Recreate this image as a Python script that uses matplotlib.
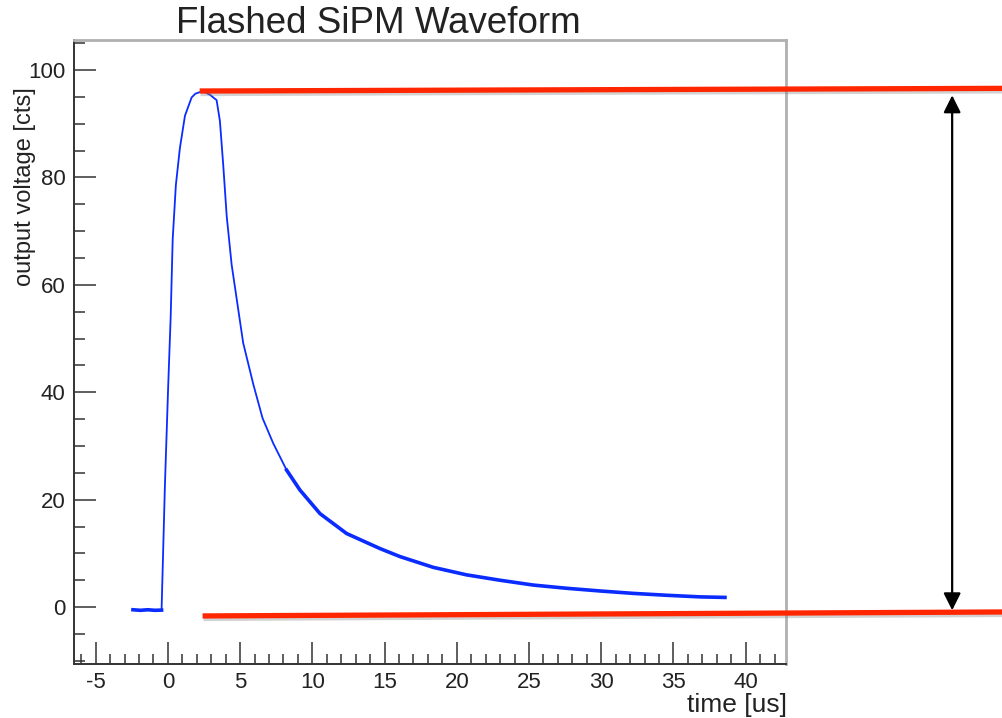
import matplotlib
matplotlib.use("Agg")
import matplotlib.pyplot as plt
import matplotlib.patheffects as pe
from matplotlib.ticker import MultipleLocator

plt.rcParams["font.family"] = ["Liberation Sans", "DejaVu Sans"]
plt.rcParams["axes.unicode_minus"] = False

# waveform: time [us], output voltage [cts]
wave_t = [-2.42, -1.9, -1.4, -0.9, -0.44, -0.21, 0.02, 0.19, 0.33, 0.55, 0.83,
          1.18, 1.64, 1.9, 2.22, 2.55, 2.91, 3.37, 3.60, 3.83, 4.07, 4.41, 4.76,
          5.21, 5.91, 6.55, 7.29, 8.22, 9.14, 10.53, 12.37, 14.68, 16.07,
          18.37, 20.68, 22.99, 25.30, 27.61, 29.92, 32.22, 34.53, 36.84, 38.57]
wave_v = [-0.5, -0.6, -0.5, -0.6, -0.56, 22.5, 41.3, 54.0, 68.5, 78.6, 85.5,
          91.5, 94.9, 95.6, 95.9, 95.9, 95.4, 94.4, 90.5, 82.3, 72.8, 63.8, 57.4,
          49.2, 41.5, 35.2, 30.5, 25.5, 21.8, 17.4, 13.7, 10.9, 9.4,
          7.4, 6.0, 5.0, 4.1, 3.5, 3.0, 2.55, 2.2, 1.9, 1.8]

# hand-drawn markers: peak level, baseline level and the amplitude arrow
peak_line_x = [2.2, 58.5]
peak_line_y = [96.1, 96.6]
base_line_x = [2.4, 58.5]
base_line_y = [-1.65, -0.9]
arrow_x = 54.3
arrow_y = [95.3, -0.6]

fig = plt.figure(figsize=(10.02, 7.18), dpi=100)
ax = fig.add_axes([0.0739, 0.0752, 0.7106, 0.8691])

blue = "#0a2cff"
ax.plot(wave_t, wave_v, color=blue, lw=1.3, zorder=3)
# noisy parts of the trace look thicker
ax.plot(wave_t[:5], wave_v[:5], color=blue, lw=2.6, zorder=3)
ax.plot(wave_t[27:], wave_v[27:], color=blue, lw=2.6, zorder=3)

ax.set_xlim(-6.5, 42.8)
ax.set_ylim(-10.6, 105.6)

ax.xaxis.set_major_locator(MultipleLocator(5))
ax.xaxis.set_minor_locator(MultipleLocator(1))
ax.yaxis.set_major_locator(MultipleLocator(20))
ax.yaxis.set_minor_locator(MultipleLocator(5))
ax.tick_params(axis="both", which="both", direction="in", colors="#333333",
               labelcolor="#222222", width=1.1)
ax.tick_params(axis="both", which="major", labelsize=16)
ax.tick_params(axis="x", which="major", length=16, pad=6)
ax.tick_params(axis="x", which="minor", length=7)
ax.tick_params(axis="y", which="major", length=15.5, pad=6)
ax.tick_params(axis="y", which="minor", length=8)

for side in ("left", "bottom"):
    ax.spines[side].set_color("#333333")
    ax.spines[side].set_linewidth(1.4)
for side in ("right", "top"):
    ax.spines[side].set_color("#b0b0b0")
    ax.spines[side].set_linewidth(2.0)

fig.text(0.378, 0.9536, "Flashed SiPM Waveform", ha="center", va="baseline",
         fontsize=26.5, color="#222222")
fig.text(0.785, 0.008, "time [us]", ha="right", va="baseline",
         fontsize=19, color="#222222")
fig.text(0.025, 0.879, "output voltage [cts]", ha="center", va="top",
         rotation=90, fontsize=17, color="#222222")

shadow = [pe.SimpleLineShadow(offset=(0.6, -1.8), shadow_color="gray", alpha=0.35),
          pe.Normal()]
for lx, ly in ((peak_line_x, peak_line_y), (base_line_x, base_line_y)):
    ax.plot(lx, ly, color="#ff2600", lw=3.8, solid_capstyle="butt",
            clip_on=False, zorder=5, path_effects=shadow)

ax.annotate("", xy=(arrow_x, arrow_y[0]), xytext=(arrow_x, arrow_y[1]),
            arrowprops=dict(arrowstyle="<|-|>", color="black", lw=1.6,
                            mutation_scale=26, shrinkA=0, shrinkB=0),
            annotation_clip=False, zorder=6)

fig.savefig("out.png", dpi=100)
